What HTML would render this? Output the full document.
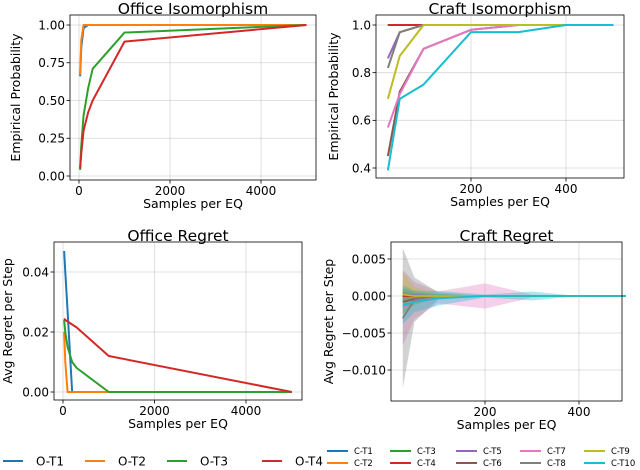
<!DOCTYPE html>
<html><head><meta charset="utf-8"><style>
body{margin:0;background:#fff;}
svg{display:block;font-family:"DejaVu Sans","Liberation Sans",sans-serif;}
</style></head><body>
<svg id="fig" width="640" height="470" viewBox="0 0 640 470"></svg>
<script>
const officeIsoX=[25,50,100,200,300,1000,5000];
const oT1=[0.66,0.85,0.98,1,1,1,1];
const oT2=[0.67,0.9,1,1,1,1,1];
const oT3=[0.04,0.2,0.4,0.58,0.71,0.95,1];
const oT4=[0.05,0.15,0.3,0.42,0.5,0.89,1];
const officeRegX=[25,50,100,200,300,1000,5000];
const rT1=[0.047,0.04,0.027,0,0,0,0];
const rT2=[0.02,0.01,0,0,0,0,0];
const rT3=[0.024,0.02,0.015,0.01,0.008,0,0];
const rT4=[0.0245,0.024,0.0235,0.0225,0.0215,0.012,0];
const craftX=[25,50,100,200,300,400,500];
const cT1=[1,1,1,1,1,1,1];
const cT2=[1,1,1,1,1,1,1];
const cT3=[1,1,1,1,1,1,1];
const cT4=[1,1,1,1,1,1,1];
const cT5=[0.86,0.97,1,1,1,1,1];
const cT6=[0.45,0.72,0.9,0.98,1,1,1];
const cT7=[0.57,0.71,0.9,0.98,1,1,1];
const cT8=[0.82,0.97,1,1,1,1,1];
const cT9=[0.69,0.87,1,1,1,1,1];
const cT10=[0.39,0.69,0.75,0.97,0.97,1,1];
const crMean=[[0,0,0,0,0,0,0],[0,0,0,0,0,0,0],[0,0,0,0,0,0,0],[0,0,0,0,0,0,0],[0.0002,0.0001,0,0,0,0,0],[-0.0008,-0.0004,0,0,0,0,0],[-0.0016,-0.0006,-0.0002,0,0,0,0],[-0.003,-0.0005,0,0,0,0,0],[0.0002,0,0,0,0,0,0],[-0.0013,-0.0008,-0.0003,0,0,0,0]];
const crStd=[[0.0005,0.0003,0.0001,0,0,0,0],[0.0005,0.0003,0.0001,0,0,0,0],[0.0015,0.0008,0.0003,0,0,0,0],[0.0005,0.0003,0.0001,0,0,0,0],[0.0008,0.0004,0.0001,0,0,0,0],[0.0016,0.0008,0.0002,0,0,0,0],[0.0051,0.0025,0.0008,0.0017,0.0002,0,0],[0.0095,0.003,0.0005,0,0,0,0],[0.003,0.0012,0.0003,0,0,0,0],[0.0025,0.0014,0.001,0.0002,0.0006,0,0]];
const officeIsoTicksX=[0,2000,4000],officeIsoTicksY=[0,0.25,0.5,0.75,1];
const craftIsoTicksX=[200,400],craftIsoTicksY=[0.4,0.6,0.8,1.0];
const officeRegTicksX=[0,2000,4000],officeRegTicksY=[0,0.02,0.04];
const craftRegTicksX=[200,400],craftRegTicksY=[-0.01,-0.005,0,0.005];
const C=['#1f77b4','#ff7f0e','#2ca02c','#d62728','#9467bd','#8c564b','#e377c2','#7f7f7f','#bcbd22','#17becf'];
const NS='http://www.w3.org/2000/svg';
const svg=document.getElementById('fig');
function el(t,a,p){const e=document.createElementNS(NS,t);for(const k in a)e.setAttribute(k,a[k]);(p||svg).appendChild(e);return e;}
function lin(d0,d1,r0,r1){return v=>r0+(v-d0)*(r1-r0)/(d1-d0);}
function fmtMinus(s){return s.replace('-','\u2212');}
function panel(name,box,sx,sy,xt,yt,xlab,ylab,title,xfmt,yfmt){
  const g=el('g',{});
  
  
  xt.forEach(v=>{const x=sx(v);el('line',{x1:x,x2:x,y1:box.t,y2:box.b,stroke:'#b0b0b0','stroke-opacity':0.5,'stroke-width':0.8},g);
    el('line',{x1:x,x2:x,y1:box.b,y2:box.b+3.5,stroke:'#000','stroke-width':0.8},g);
    const t=el('text',{x:x,y:box.b+15,'text-anchor':'middle','font-size':12},g);t.textContent=xfmt(v);
    });
  yt.forEach(v=>{const y=sy(v);el('line',{x1:box.l,x2:box.r,y1:y,y2:y,stroke:'#b0b0b0','stroke-opacity':0.5,'stroke-width':0.8},g);
    el('line',{x1:box.l-3.5,x2:box.l,y1:y,y2:y,stroke:'#000','stroke-width':0.8},g);
    const t=el('text',{x:box.l-5,y:y+4.3,'text-anchor':'end','font-size':12},g);t.textContent=fmtMinus(yfmt(v));
    });
  const tt=el('text',{x:(box.l+box.r)/2,y:box.t-1,'text-anchor':'middle','font-size':15.5},g);tt.textContent=title;
  
  const xl=el('text',{x:(box.l+box.r)/2,y:box.b+28,'text-anchor':'middle','font-size':12.5},g);xl.textContent=xlab;
  
  const cy=(box.t+box.b)/2;
  const yl=el('text',{x:box.lx,y:cy,'text-anchor':'middle','font-size':12.5,transform:`rotate(-90 ${box.lx} ${cy})`},g);yl.textContent=ylab;
  
  return g;
}
function frame(g,box){el('rect',{x:box.l,y:box.t,width:box.r-box.l,height:box.b-box.t,fill:'none',stroke:'#000','stroke-width':0.8},g);}
function line(g,xs,ys,sx,sy,col,w,nm){const p=el('polyline',{points:xs.map((x,i)=>sx(x)+','+sy(ys[i])).join(' '),fill:'none',stroke:col,'stroke-width':w,'stroke-linejoin':'round'},g);
  }
let b={l:70,r:316,t:15,b:180,lx:20};
let sx=lin(0,4000,79,261),sy=lin(0,1,176,25);
let g=panel('office-isomorphism-chart',b,sx,sy,officeIsoTicksX,officeIsoTicksY,'Samples per EQ','Empirical Probability','Office Isomorphism',v=>String(v),v=>v.toFixed(2));
[oT1,oT2,oT3,oT4].forEach((s,i)=>line(g,officeIsoX,s,sx,sy,C[i],2,'line-o-t'+(i+1)));frame(g,b);
b={l:376,r:624,t:15,b:178,lx:338};
sx=lin(0,400,376,566);sy=lin(0.4,1,168,25);
g=panel('craft-isomorphism-chart',b,sx,sy,craftIsoTicksX,craftIsoTicksY,'Samples per EQ','Empirical Probability','Craft Isomorphism',v=>String(v),v=>v.toFixed(1));
[cT1,cT2,cT3,cT4,cT5,cT6,cT7,cT8,cT9,cT10].forEach((s,i)=>line(g,craftX,s,sx,sy,C[i],2,'line-c-t'+(i+1)));frame(g,b);
b={l:54,r:302,t:242,b:400,lx:12};
sx=lin(0,4000,63,246);sy=lin(0,0.04,392,272);
g=panel('office-regret-chart',b,sx,sy,officeRegTicksX,officeRegTicksY,'Samples per EQ','Avg Regret per Step','Office Regret',v=>String(v),v=>v.toFixed(2));
[rT1,rT2,rT3,rT4].forEach((s,i)=>line(g,officeRegX,s,sx,sy,C[i],2,'line-o-t'+(i+1)));frame(g,b);
b={l:391,r:622,t:242,b:401,lx:333};
sx=lin(0,400,391,579);sy=lin(0,0.005,296,259);
g=panel('craft-regret-chart',b,sx,sy,craftRegTicksX,craftRegTicksY,'Samples per EQ','Avg Regret per Step','Craft Regret',v=>String(v),v=>v.toFixed(3));
crMean.forEach((m,i)=>{const s=crStd[i];
  const pts=craftX.map((x,j)=>sx(x)+','+sy(m[j]+s[j])).concat(craftX.map((x,j)=>sx(x)+','+sy(m[j]-s[j])).reverse());
  const p=el('polygon',{points:pts.join(' '),fill:C[i],'fill-opacity':0.35},g);
  });
crMean.forEach((m,i)=>line(g,craftX,m,sx,sy,C[i],1.8,'line-c-t'+(i+1)));frame(g,b);
const oLeg=[[3,'O-T1'],[85,'O-T2'],[167,'O-T3'],[262,'O-T4']];
oLeg.forEach((e,i)=>{const lg=el('g',{});
  
  el('line',{x1:e[0],x2:e[0]+20,y1:461,y2:461,stroke:C[i],'stroke-width':2},lg);
  const t=el('text',{x:e[0]+33,y:465.5,'font-size':12},lg);t.textContent=e[1];});
const cCols=[327,390,456,520,584];
for(let i=0;i<10;i++){const col=cCols[Math.floor(i/2)],y=i%2?463:451;const lg=el('g',{});
  
  el('line',{x1:col,x2:col+21,y1:y,y2:y,stroke:C[i],'stroke-width':2},lg);
  const t=el('text',{x:col+27,y:y+3,'font-size':8.5},lg);t.textContent='C-T'+(i+1);}
</script>
</body></html>
